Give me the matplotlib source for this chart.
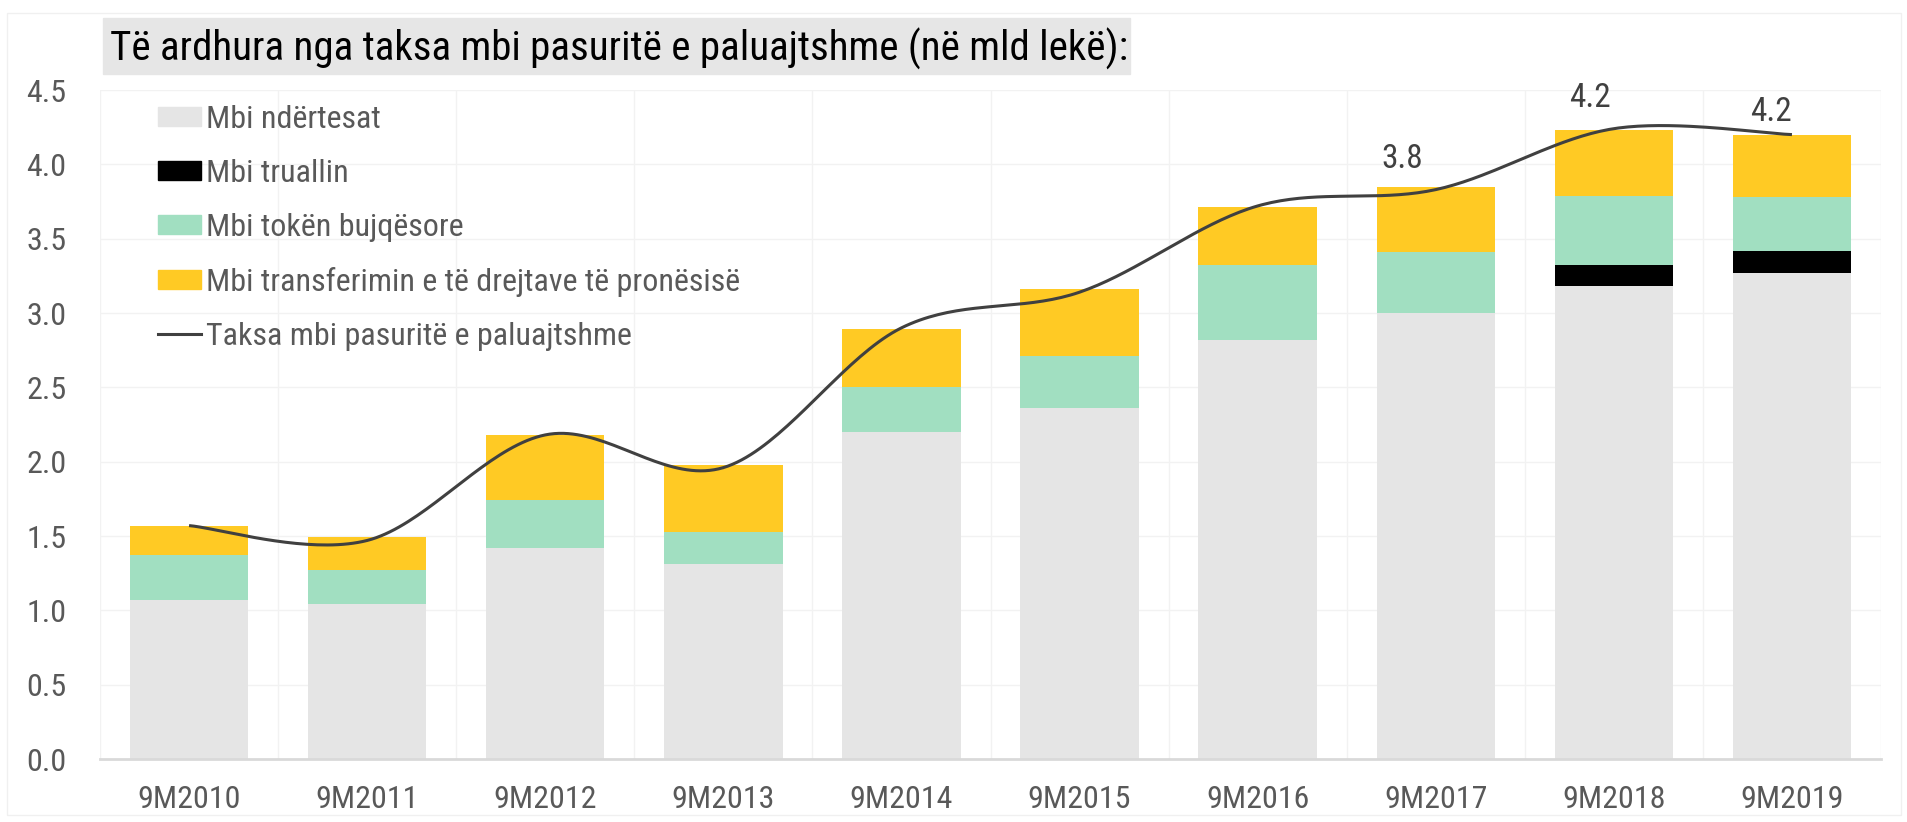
import numpy as np
import matplotlib
matplotlib.use("Agg")
import matplotlib.pyplot as plt
from matplotlib import font_manager as fm
from matplotlib.patches import Rectangle, Patch
from matplotlib.lines import Line2D

# germa e ngushte si Arial Narrow, nese gjendet
emrat = {f.name for f in fm.fontManager.ttflist}
ngushte = [n for n in ['Liberation Sans Narrow', 'Arial Narrow', 'Roboto Condensed',
                       'Open Sans Condensed', 'DejaVu Sans Condensed'] if n in emrat]
dejavu_cond = any(f.name == 'DejaVu Sans' and 'condensed' in str(f.stretch)
                  for f in fm.fontManager.ttflist)
if ngushte:
    plt.rcParams['font.family'] = [ngushte[0], 'DejaVu Sans']
    shkalla = 1.0
elif dejavu_cond:
    plt.rcParams['font.family'] = ['DejaVu Sans']
    plt.rcParams['font.stretch'] = 'condensed'
    shkalla = 0.85
else:
    plt.rcParams['font.family'] = ['Liberation Sans', 'DejaVu Sans']
    shkalla = 0.86

# te dhenat (mld leke)
periudhat = ['9M2010', '9M2011', '9M2012', '9M2013', '9M2014',
             '9M2015', '9M2016', '9M2017', '9M2018', '9M2019']
ndertesat = [1.07, 1.04, 1.42, 1.31, 2.20, 2.36, 2.82, 3.00, 3.18, 3.27]
trualli = [0.00, 0.00, 0.00, 0.00, 0.00, 0.00, 0.00, 0.00, 0.14, 0.15]
toka_bujqesore = [0.30, 0.23, 0.32, 0.22, 0.30, 0.35, 0.50, 0.41, 0.47, 0.36]
transferimi = [0.20, 0.22, 0.44, 0.45, 0.39, 0.45, 0.39, 0.44, 0.44, 0.42]
taksa_totale = [1.57, 1.47, 2.18, 1.96, 2.90, 3.14, 3.72, 3.83, 4.24, 4.20]
etiketat = {7: '3.8', 8: '4.2', 9: '4.2'}

NGJYRA_GRI = '#e5e5e5'
NGJYRA_ZEZE = '#000000'
NGJYRA_JESHILE = '#a1dfc1'
NGJYRA_VERDHE = '#ffca24'
NGJYRA_VIJE = '#404040'
NGJYRA_TEKST = '#595959'

FS = 23 * shkalla
FS_TITULL = 29.5 * shkalla


def catmull_rom(x, y, n=40):
    """Vije e lemuar si ne Excel (kurba kalon neper pikat)."""
    px = np.concatenate([[x[0]], x, [x[-1]]])
    py = np.concatenate([[y[0]], y, [y[-1]]])
    xs, ys = [], []
    t = np.linspace(0, 1, n)
    for i in range(1, len(px) - 2):
        for arr, out in ((px, xs), (py, ys)):
            p0, p1, p2, p3 = arr[i - 1], arr[i], arr[i + 1], arr[i + 2]
            out.extend(0.5 * ((2 * p1) + (-p0 + p2) * t
                              + (2 * p0 - 5 * p1 + 4 * p2 - p3) * t ** 2
                              + (-p0 + 3 * p1 - 3 * p2 + p3) * t ** 3))
    return np.array(xs), np.array(ys)


fig = plt.figure(figsize=(19.08, 8.22), dpi=100)
ax = fig.add_axes([100 / 1908, 63 / 822, 1781 / 1908, 669 / 822])

x = np.arange(len(periudhat))
w = 0.665
b1 = np.array(ndertesat)
b2 = b1 + np.array(trualli)
b3 = b2 + np.array(toka_bujqesore)

ax.bar(x, ndertesat, w, color=NGJYRA_GRI, zorder=2)
ax.bar(x, trualli, w, bottom=b1, color=NGJYRA_ZEZE, zorder=2)
ax.bar(x, toka_bujqesore, w, bottom=b2, color=NGJYRA_JESHILE, zorder=2)
ax.bar(x, transferimi, w, bottom=b3, color=NGJYRA_VERDHE, zorder=2)

lx, ly = catmull_rom(x.astype(float), np.array(taksa_totale))
ax.plot(lx, ly, color=NGJYRA_VIJE, lw=2.2, zorder=3, solid_capstyle='butt')

# etiketat e vleres
zhvendosje = {7: (-24, 22), 8: (-17, 22), 9: (-15, 16)}
for i, txt in etiketat.items():
    ax.annotate(txt, (x[i], taksa_totale[i]), xytext=zhvendosje[i],
                textcoords='offset points', ha='center', va='center',
                fontsize=FS * 1.04, color=NGJYRA_VIJE)

ax.set_xlim(-0.5, len(periudhat) - 0.5)
ax.set_ylim(0, 4.5)
yt = np.arange(0, 4.51, 0.5)
ax.set_yticks(yt)
ax.set_yticklabels([f'{v:.1f}' for v in yt])
ax.set_xticks(x)
ax.set_xticklabels(periudhat)
ax.tick_params(axis='both', length=0, labelsize=FS, labelcolor=NGJYRA_TEKST)
ax.tick_params(axis='x', pad=19)
ax.tick_params(axis='y', pad=24)

for yv in yt[1:]:
    ax.axhline(yv, color='#f2f2f2', lw=1, zorder=0)
for xv in np.arange(-0.5, len(periudhat), 1.0):
    ax.axvline(xv, color='#f2f2f2', lw=1, zorder=0)

for s in ['top', 'right', 'left']:
    ax.spines[s].set_visible(False)
ax.spines['bottom'].set_color('#d9d9d9')
ax.spines['bottom'].set_linewidth(2)
ax.spines['bottom'].set_zorder(4)

# legjenda
elementet = [
    Patch(color=NGJYRA_GRI, label='Mbi ndërtesat'),
    Patch(color=NGJYRA_ZEZE, label='Mbi truallin'),
    Patch(color=NGJYRA_JESHILE, label='Mbi tokën bujqësore'),
    Patch(color=NGJYRA_VERDHE, label='Mbi transferimin e të drejtave të pronësisë'),
    Line2D([0], [0], color=NGJYRA_VIJE, lw=2.2, label='Taksa mbi pasuritë e paluajtshme'),
]
leg = ax.legend(handles=elementet, loc='upper left',
                bbox_to_anchor=(158 / 1908, 1 - 105 / 822),
                bbox_transform=fig.transFigure, frameon=False,
                fontsize=FS, handlelength=1.34 * 23 / FS, handleheight=0.56 * 23 / FS,
                handletextpad=0.16 * 23 / FS, labelspacing=0.78 * 23 / FS,
                borderpad=0, borderaxespad=0)
for t in leg.get_texts():
    t.set_color(NGJYRA_TEKST)

# titulli me sfond gri
fig.patches.append(Rectangle((103 / 1908, 1 - 74 / 822), 1027 / 1908, 56 / 822,
                             transform=fig.transFigure, color='#e6e6e6', zorder=0))
fig.text(110 / 1908, 1 - 61 / 822,
         'Të ardhura nga taksa mbi pasuritë e paluajtshme (në mld lekë):',
         fontsize=FS_TITULL, color='black', ha='left', va='baseline')

# korniza e lehte
fig.patches.append(Rectangle((7 / 1908, 7 / 822), 1894 / 1908, 802 / 822,
                             transform=fig.transFigure, fill=False,
                             edgecolor='#f0f0f0', lw=1))

fig.savefig('out.png', dpi=100)
